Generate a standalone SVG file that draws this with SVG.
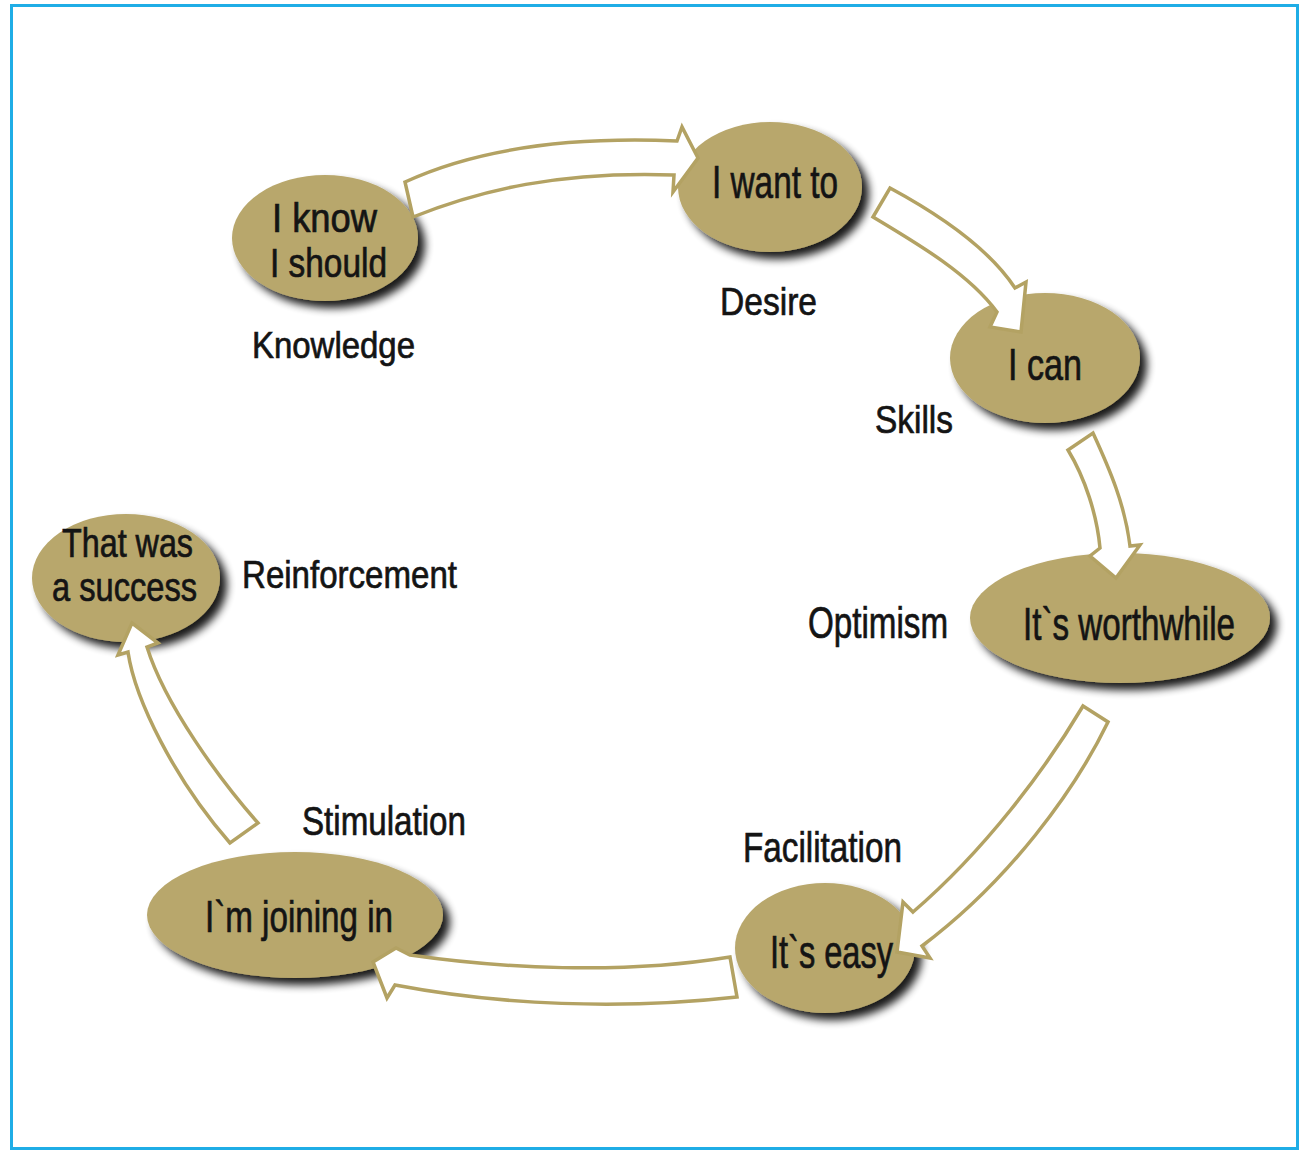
<svg xmlns="http://www.w3.org/2000/svg" width="1308" height="1158" viewBox="0 0 1308 1158">
<defs>
<filter id="sh" x="-20%" y="-20%" width="150%" height="160%">
<feGaussianBlur in="SourceAlpha" stdDeviation="4"/>
<feOffset dx="7" dy="7"/>
<feComponentTransfer><feFuncA type="linear" slope="0.9"/></feComponentTransfer>
<feMerge><feMergeNode/><feMergeNode in="SourceGraphic"/></feMerge>
</filter>
</defs>
<style>
.node{fill:#B8A76C;filter:url(#sh)}
.t{font-family:"Liberation Sans",Arial,sans-serif;fill:#141414;stroke:#141414;stroke-width:0.7}
.arr{fill:#ffffff;stroke:#B3A263;stroke-width:3.5;stroke-linejoin:miter}
</style>
<rect x="11.5" y="5.5" width="1286" height="1143" fill="#ffffff" stroke="#1FADE6" stroke-width="3"/>

<g id="n-know">
<ellipse class="node" cx="325" cy="238" rx="93" ry="63"/>
<text class="t" x="272" y="232" font-size="40" textLength="105" lengthAdjust="spacingAndGlyphs">I know</text>
<text class="t" x="270" y="277" font-size="40" textLength="117" lengthAdjust="spacingAndGlyphs">I should</text>
<text class="t" x="252" y="358" font-size="37" textLength="163" lengthAdjust="spacingAndGlyphs">Knowledge</text>
</g>
<g id="n-want">
<ellipse class="node" cx="770" cy="187" rx="92" ry="65"/>
<text class="t" x="712" y="198" font-size="47" textLength="126" lengthAdjust="spacingAndGlyphs">I want to</text>
<text class="t" x="720" y="315" font-size="39" textLength="97" lengthAdjust="spacingAndGlyphs">Desire</text>
</g>
<g id="n-can">
<ellipse class="node" cx="1045" cy="358" rx="95" ry="65"/>
<text class="t" x="1008" y="380" font-size="45" textLength="74" lengthAdjust="spacingAndGlyphs">I can</text>
<text class="t" x="875" y="433" font-size="39" textLength="78" lengthAdjust="spacingAndGlyphs">Skills</text>
</g>
<g id="n-worth">
<ellipse class="node" cx="1120" cy="618" rx="150" ry="65"/>
<text class="t" x="1023" y="640" font-size="46" textLength="212" lengthAdjust="spacingAndGlyphs">It`s worthwhile</text>
<text class="t" x="808" y="638" font-size="44" textLength="140" lengthAdjust="spacingAndGlyphs">Optimism</text>
</g>
<g id="n-easy">
<ellipse class="node" cx="825" cy="948" rx="90" ry="65"/>
<text class="t" x="770" y="968" font-size="46" textLength="123" lengthAdjust="spacingAndGlyphs">It`s easy</text>
<text class="t" x="743" y="862" font-size="42" textLength="159" lengthAdjust="spacingAndGlyphs">Facilitation</text>
</g>
<g id="n-join">
<ellipse class="node" cx="295" cy="915" rx="148" ry="63"/>
<text class="t" x="205" y="932" font-size="44" textLength="188" lengthAdjust="spacingAndGlyphs">I`m joining in</text>
<text class="t" x="302" y="835" font-size="40" textLength="164" lengthAdjust="spacingAndGlyphs">Stimulation</text>
</g>
<g id="n-success">
<ellipse class="node" cx="126" cy="578" rx="94" ry="64"/>
<text class="t" x="62" y="557" font-size="40" textLength="131" lengthAdjust="spacingAndGlyphs">That was</text>
<text class="t" x="52" y="601" font-size="40" textLength="145" lengthAdjust="spacingAndGlyphs">a success</text>
<text class="t" x="242" y="588" font-size="38" textLength="215" lengthAdjust="spacingAndGlyphs">Reinforcement</text>
</g>

<g id="connectors">
<path class="arr" d="M405,182 C470,152 560,136 677,141 L682,127 L698,158 L673,192 L674,175 C560,171 480,190 413,217 Z"/>
<path class="arr" d="M890,188 C940,215 990,250 1015,288 L1026,282 L1021,332 L990,327 L997,312 C970,275 920,245 873,217 Z"/>
<path class="arr" d="M1093,433 C1110,470 1125,505 1130,546 L1140,545 L1116,578 L1090,556 L1100,548 C1097,515 1085,478 1068,450 Z"/>
<path class="arr" d="M1108,722 C1075,790 1010,880 922,946 L930,958 L897,952 L903,902 L913,912 C985,850 1045,770 1083,706 Z"/>
<path class="arr" d="M730,957 C620,975 500,968 410,955 L396,948 L373,962 L387,998 L395,985 C500,1005 620,1010 737,997 Z"/>
<path class="arr" d="M258,823 C220,780 165,705 147,647 L158,643 L132,623 L118,655 L128,652 C135,700 175,780 230,843 Z"/>
</g>
</svg>
